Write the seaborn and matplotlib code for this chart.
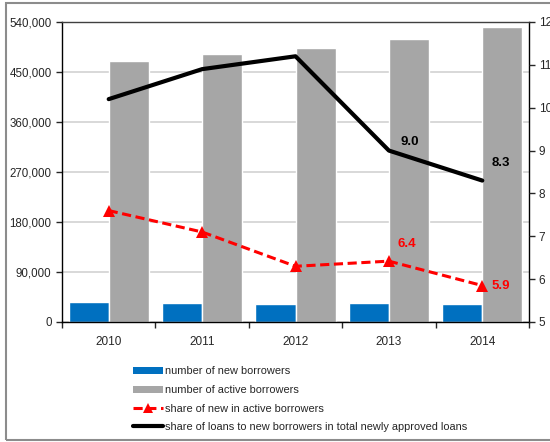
import matplotlib
matplotlib.use("Agg")
import matplotlib.pyplot as plt
import matplotlib.ticker as mticker
from matplotlib.patches import Patch, Rectangle
from matplotlib.lines import Line2D
import seaborn as sns
import pandas as pd
import numpy as np

years = ["2010", "2011", "2012", "2013", "2014"]
new_borrowers = [36000, 34500, 32000, 33500, 32000]
active_borrowers = [469000, 481500, 492500, 510000, 531500]
share_new_in_active = [7.6, 7.1, 6.3, 6.42, 5.85]
share_loans_new = [10.2, 10.9, 11.2, 9.0, 8.3]
red_labels = {3: "6.4", 4: "5.9"}
black_labels = {3: "9.0", 4: "8.3"}

sns.set_style("white")
plt.rcParams['font.family'] = ['Liberation Sans', 'DejaVu Sans']

bars = pd.DataFrame({
    "year": years * 2,
    "value": new_borrowers + active_borrowers,
    "series": ["number of new borrowers"] * 5 + ["number of active borrowers"] * 5,
})

fig = plt.figure(figsize=(5.5, 4.42), dpi=100)
ax = fig.add_axes([62/550, 1-322/442, (529-62)/550, 300/442])

sns.barplot(data=bars, x="year", y="value", hue="series",
            palette=["#0070C0", "#A6A6A6"], width=0.86, gap=0,
            saturation=1, ax=ax, legend=False)
ax.set_xlim(-0.5, 4.5)
ax.set_ylim(0, 540000)
ax.set_yticks(np.arange(0, 540001, 90000))
ax.yaxis.set_major_formatter(mticker.FuncFormatter(lambda v, p: "{:,.0f}".format(v)))
ax.yaxis.grid(True, color="#d6d6d6", linewidth=1.3)
ax.set_axisbelow(True)
ax.set_xlabel("")
ax.set_ylabel("")
ax.set_xticks(range(5))
ax.set_xticklabels(years)
ax.set_xticks(np.arange(-0.5, 4.6, 1), minor=True)
ax.tick_params(axis="x", which="major", length=0, pad=10, labelsize=8.5)
ax.tick_params(axis="x", which="minor", length=4, width=1, direction="out", bottom=True)
ax.tick_params(axis="y", length=4, width=1, direction="out", left=True, labelsize=8.3, pad=3.5)
for s in ax.spines.values():
    s.set_visible(True)
    s.set_color("black")
    s.set_linewidth(1)
ax.spines["top"].set_color("#404040")

ax2 = ax.twinx()
xs = np.arange(5)
sns.lineplot(x=xs, y=share_new_in_active, ax=ax2, color="#FF0000", linewidth=2.2,
             linestyle=(0, (3, 1.5)), marker="^", markersize=9, markeredgewidth=0)
sns.lineplot(x=xs, y=share_loans_new, ax=ax2, color="black", linewidth=3)
ax2.set_ylim(5, 12)
ax2.set_yticks(range(5, 13))
ax2.tick_params(axis="y", length=4, width=1, direction="out", right=True, labelsize=8.5, pad=3)
ax2.set_xlim(-0.5, 4.5)
for s in ax2.spines.values():
    s.set_visible(False)

black_off = {3: (15, 6.5), 4: (13.5, 13)}
red_off = {3: (13, 12), 4: (13.5, 0)}
for i, t in black_labels.items():
    ax2.annotate(t, (xs[i], share_loans_new[i]), xytext=black_off[i],
                 textcoords="offset points", ha="center", va="center",
                 fontsize=9.5, fontweight="bold", color="black")
for i, t in red_labels.items():
    ax2.annotate(t, (xs[i], share_new_in_active[i]), xytext=red_off[i],
                 textcoords="offset points", ha="center", va="center",
                 fontsize=9.5, fontweight="bold", color="#FF0000")

handles = [
    Patch(facecolor="#0070C0", edgecolor="none", label="number of new borrowers"),
    Patch(facecolor="#A6A6A6", edgecolor="none", label="number of active borrowers"),
    Line2D([], [], color="#FF0000", linewidth=2.2, linestyle=(0, (3, 1.5)), marker="^",
           markersize=7, markeredgewidth=0, label="share of new in active borrowers"),
    Line2D([], [], color="black", linewidth=3,
           label="share of loans to new borrowers in total newly approved loans"),
]
fig.legend(handles=handles, loc="upper left", bbox_to_anchor=(128/550, 1-361/442),
           frameon=False, fontsize=7.9, handlelength=2.65, handleheight=0.65,
           handletextpad=0.2, labelspacing=0.78, borderpad=0)

fig.patches.append(Rectangle((6/550, 2/442), 1.0, 1-5/442, transform=fig.transFigure,
                             fill=False, edgecolor="#8c8c8c", linewidth=1.5))

fig.savefig("out.png", dpi=100)
